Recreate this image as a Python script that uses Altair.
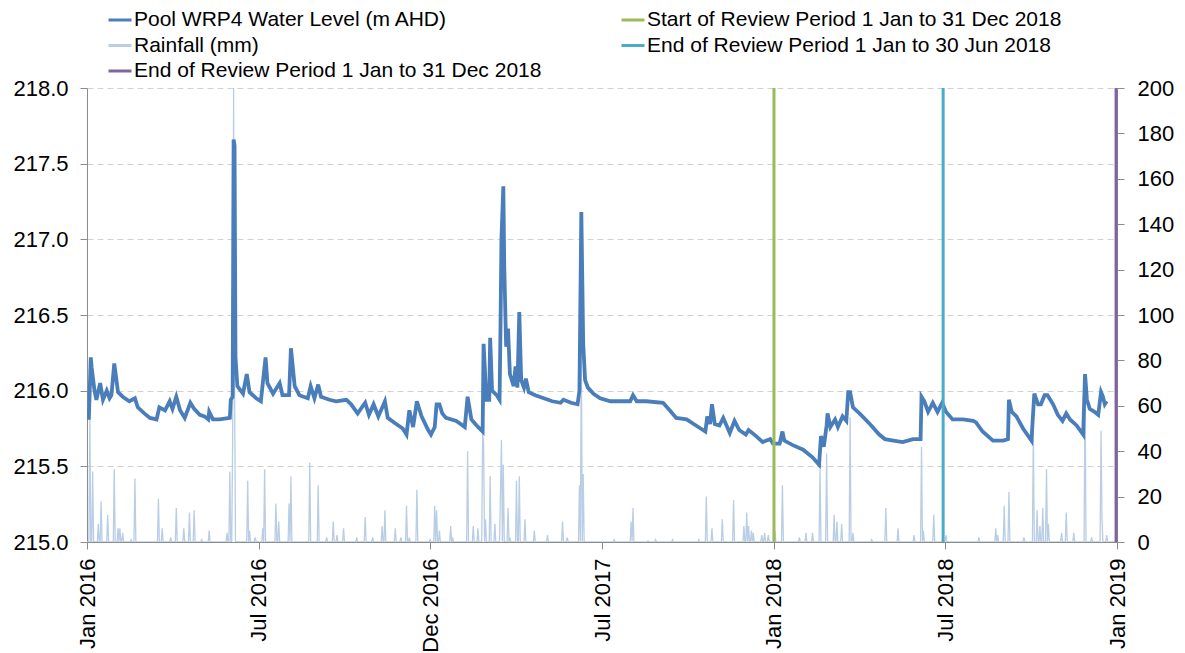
import altair as alt
import pandas as pd

# ---------------- data ----------------
level_dates = [
    "2016-01-01", "2016-01-03", "2016-01-05", "2016-01-06", "2016-01-09", "2016-01-11", "2016-01-15",
    "2016-01-18", "2016-01-22", "2016-01-25", "2016-01-27", "2016-01-30", "2016-02-03", "2016-02-08",
    "2016-02-15", "2016-02-21", "2016-02-24", "2016-03-02", "2016-03-08", "2016-03-15", "2016-03-18",
    "2016-03-24", "2016-03-29", "2016-04-01", "2016-04-05", "2016-04-09", "2016-04-14", "2016-04-20",
    "2016-04-24", "2016-04-30", "2016-05-05", "2016-05-09", "2016-05-10", "2016-05-14", "2016-05-21",
    "2016-06-01", "2016-06-02", "2016-06-04", "2016-06-05", "2016-06-06", "2016-06-07", "2016-06-09",
    "2016-06-15", "2016-06-19", "2016-06-22", "2016-06-29", "2016-07-04", "2016-07-09", "2016-07-11",
    "2016-07-17", "2016-07-24", "2016-07-27", "2016-08-03", "2016-08-05", "2016-08-09", "2016-08-14",
    "2016-08-23", "2016-08-26", "2016-08-30", "2016-09-03", "2016-09-06", "2016-09-15", "2016-09-22",
    "2016-10-03", "2016-10-08", "2016-10-15", "2016-10-23", "2016-10-27", "2016-11-01", "2016-11-06",
    "2016-11-13", "2016-11-16", "2016-11-25", "2016-12-02", "2016-12-06", "2016-12-09", "2016-12-13",
    "2016-12-17", "2016-12-22", "2016-12-29", "2017-01-01", "2017-01-05", "2017-01-07", "2017-01-10",
    "2017-01-13", "2017-01-17", "2017-01-28", "2017-02-06", "2017-02-09", "2017-02-13", "2017-02-20",
    "2017-02-25", "2017-02-26", "2017-03-01", "2017-03-04", "2017-03-05", "2017-03-07", "2017-03-12",
    "2017-03-15", "2017-03-16", "2017-03-17", "2017-03-19", "2017-03-20", "2017-03-22", "2017-03-24",
    "2017-03-26", "2017-03-30", "2017-04-01", "2017-04-03", "2017-04-05", "2017-04-07", "2017-04-10",
    "2017-04-12", "2017-04-15", "2017-04-22", "2017-05-01", "2017-05-10", "2017-05-19", "2017-05-22",
    "2017-05-30", "2017-06-06", "2017-06-08", "2017-06-10", "2017-06-12", "2017-06-14", "2017-06-17",
    "2017-06-23", "2017-06-30", "2017-07-11", "2017-07-25", "2017-08-01", "2017-08-04", "2017-08-08",
    "2017-08-18", "2017-09-05", "2017-09-12", "2017-09-19", "2017-09-30", "2017-10-10", "2017-10-20",
    "2017-10-22", "2017-10-25", "2017-10-27", "2017-10-30", "2017-11-04", "2017-11-08", "2017-11-15",
    "2017-11-20", "2017-11-25", "2017-12-02", "2017-12-05", "2017-12-13", "2017-12-20", "2017-12-28",
    "2017-12-31", "2018-01-07", "2018-01-10", "2018-01-12", "2018-01-21", "2018-02-01", "2018-02-11",
    "2018-02-18", "2018-02-20", "2018-02-23", "2018-02-26", "2018-02-27", "2018-03-02", "2018-03-07",
    "2018-03-10", "2018-03-15", "2018-03-19", "2018-03-21", "2018-03-23", "2018-03-26", "2018-04-02",
    "2018-04-13", "2018-04-23", "2018-04-29", "2018-05-08", "2018-05-18", "2018-05-29", "2018-06-06",
    "2018-06-07", "2018-06-10", "2018-06-14", "2018-06-19", "2018-06-24", "2018-06-29", "2018-07-03",
    "2018-07-10", "2018-07-21", "2018-08-01", "2018-08-04", "2018-08-11", "2018-08-22", "2018-09-02",
    "2018-09-07", "2018-09-08", "2018-09-11", "2018-09-16", "2018-09-23", "2018-10-02", "2018-10-05",
    "2018-10-09", "2018-10-12", "2018-10-16", "2018-10-19", "2018-10-25", "2018-10-30", "2018-11-04",
    "2018-11-08", "2018-11-12", "2018-11-19", "2018-11-26", "2018-11-28", "2018-11-30", "2018-12-03",
    "2018-12-08", "2018-12-12", "2018-12-15", "2018-12-17", "2018-12-19", "2018-12-21",
]
level_values = [
    215.82, 215.82, 216.22, 216.15, 216.00, 215.94, 216.05,
    215.94, 216.00, 215.95, 215.97, 216.18, 215.99, 215.96,
    215.93, 215.95, 215.89, 215.85, 215.82, 215.81, 215.89,
    215.87, 215.93, 215.88, 215.96, 215.87, 215.82, 215.92,
    215.88, 215.84, 215.83, 215.81, 215.86, 215.81, 215.81,
    215.82, 215.94, 215.96, 217.66, 217.62, 216.22, 216.03,
    215.98, 216.11, 215.99, 215.95, 215.93, 216.22, 216.05,
    215.98, 216.05, 215.97, 215.97, 216.28, 216.03, 215.97,
    215.95, 216.03, 215.95, 216.04, 215.96, 215.94, 215.93,
    215.94, 215.91, 215.85, 215.92, 215.84, 215.91, 215.83,
    215.93, 215.82, 215.78, 215.75, 215.71, 215.87, 215.76,
    215.93, 215.83, 215.74, 215.71, 215.76, 215.91, 215.91,
    215.85, 215.82, 215.80, 215.76, 215.96, 215.81, 215.76,
    215.73, 216.31, 215.94, 215.94, 216.35, 216.00, 215.97,
    215.94, 216.42, 217.00, 217.35, 216.82, 216.29, 216.41,
    216.11, 216.03, 216.16, 216.02, 216.52, 216.07, 216.02,
    216.08, 215.99, 215.97, 215.95, 215.93, 215.92, 215.94,
    215.92, 215.91, 216.00, 217.18, 216.31, 216.07, 216.02,
    215.98, 215.95, 215.93, 215.93, 215.93, 215.97, 215.93,
    215.93, 215.92, 215.87, 215.82, 215.81, 215.77, 215.73,
    215.83, 215.78, 215.91, 215.78, 215.77, 215.82, 215.72,
    215.80, 215.74, 215.71, 215.74, 215.70, 215.66, 215.68,
    215.65, 215.65, 215.73, 215.67, 215.64, 215.61, 215.56,
    215.51, 215.70, 215.63, 215.77, 215.85, 215.76, 215.81,
    215.76, 215.83, 215.80, 215.99, 215.99, 215.89, 215.85,
    215.78, 215.71, 215.68, 215.67, 215.66, 215.68, 215.68,
    215.96, 215.93, 215.86, 215.92, 215.86, 215.92, 215.86,
    215.81, 215.81, 215.80, 215.79, 215.73, 215.67, 215.67,
    215.68, 215.94, 215.86, 215.83, 215.75, 215.67, 215.98,
    215.91, 215.91, 215.97, 215.97, 215.91, 215.84, 215.80,
    215.85, 215.81, 215.77, 215.71, 216.11, 215.94, 215.88,
    215.86, 215.84, 215.99, 215.96, 215.91, 215.93,
]

# rainfall days (all other days of the record show 0 mm)
rain_dates = [
    "2016-01-04", "2016-01-07", "2016-01-13", "2016-01-16", "2016-01-23", "2016-01-30", "2016-02-03",
    "2016-02-05", "2016-02-08", "2016-02-17", "2016-02-21", "2016-03-17", "2016-03-21", "2016-03-30",
    "2016-04-05", "2016-04-13", "2016-04-19", "2016-04-24", "2016-05-02", "2016-05-10", "2016-05-29",
    "2016-06-01", "2016-06-04", "2016-06-05", "2016-06-06", "2016-06-20", "2016-06-22", "2016-06-28",
    "2016-07-06", "2016-07-08", "2016-07-20", "2016-07-23", "2016-08-03", "2016-08-05", "2016-08-25",
    "2016-09-03", "2016-09-12", "2016-09-19", "2016-09-23", "2016-09-30", "2016-10-14", "2016-10-23",
    "2016-10-31", "2016-11-10", "2016-11-13", "2016-11-24", "2016-11-30", "2016-12-06", "2016-12-09",
    "2016-12-17", "2016-12-31", "2017-01-05", "2017-01-07", "2017-01-10", "2017-01-22", "2017-01-24",
    "2017-02-09", "2017-02-15", "2017-02-20", "2017-02-25", "2017-02-26", "2017-02-28", "2017-03-05",
    "2017-03-10", "2017-03-16", "2017-03-17", "2017-03-19", "2017-03-24", "2017-03-26", "2017-04-02",
    "2017-04-05", "2017-04-11", "2017-04-21", "2017-05-05", "2017-05-21", "2017-05-26", "2017-06-08",
    "2017-06-10", "2017-06-12", "2017-07-15", "2017-08-02", "2017-08-04", "2017-08-20", "2017-08-28",
    "2017-09-15", "2017-10-13", "2017-10-21", "2017-10-27", "2017-11-07", "2017-11-19", "2017-11-30",
    "2017-12-03", "2017-12-05", "2017-12-08", "2017-12-10", "2017-12-19", "2017-12-22", "2017-12-26",
    "2018-01-02", "2018-01-10", "2018-01-28", "2018-02-04", "2018-02-11", "2018-02-19", "2018-02-26",
    "2018-03-06", "2018-03-09", "2018-03-14", "2018-03-23", "2018-03-26", "2018-04-15", "2018-04-30",
    "2018-05-13", "2018-05-30", "2018-06-07", "2018-06-09", "2018-06-20", "2018-07-03", "2018-08-07",
    "2018-08-25", "2018-08-27", "2018-09-03", "2018-09-08", "2018-09-24", "2018-10-04", "2018-10-08",
    "2018-10-11", "2018-10-14", "2018-10-18", "2018-10-20", "2018-11-03", "2018-11-08", "2018-11-16",
    "2018-11-28", "2018-12-05", "2018-12-15", "2018-12-16", "2018-12-21",
]
rain_values = [
    55, 31, 8, 18, 12, 32, 6,
    6, 4, 1, 28, 19, 6, 2,
    15, 6, 13, 14, 1, 5, 4,
    31, 45, 200, 70, 27, 5, 2,
    6, 32, 17, 9, 17, 29, 35,
    25, 2, 9, 3, 6, 2, 11,
    2, 7, 14, 6, 2, 16, 2,
    23, 1, 16, 14, 5, 7, 2,
    40, 7, 6, 48, 44, 10, 29,
    8, 23, 45, 34, 15, 2, 27,
    29, 10, 5, 3, 9, 2, 25,
    87, 30, 1, 9, 15, 0.5, 1,
    1, 1, 20, 6, 10, 18.5, 7,
    13, 7, 5, 4, 3, 4, 3,
    5, 25, 2, 4, 4, 32, 39,
    12, 9, 8, 55, 4, 1, 15,
    6, 3, 42, 5, 12, 3, 2,
    6, 3, 16, 22, 2, 49, 14,
    7, 15, 32, 8, 4, 13, 4,
    72, 2, 49, 10, 3,
]
rain_record = ("2016-01-01", "2018-12-31")

review_dates = ["2018-01-01", "2018-06-30", "2018-12-31"]
review_names = [
    "Start of Review Period 1 Jan to 31 Dec 2018",
    "End of Review Period 1 Jan to 30 Jun 2018",
    "End of Review Period 1 Jan to 31 Dec 2018",
]

level_name = "Pool WRP4 Water Level (m AHD)"
rain_name = "Rainfall (mm)"
# legend is filled column by column: first column, then second column
series_names = [level_name, rain_name, review_names[2], review_names[0], review_names[1]]
series_colors = ["#4a7ebb", "#b9cde5", "#8064a2", "#9bbb59", "#4bacc6"]

x_tick_dates = ["2016-01-01", "2016-07-02", "2016-12-31", "2017-07-02", "2018-01-01", "2018-07-02", "2019-01-01"]
left_ticks = [215.0, 215.5, 216.0, 216.5, 217.0, 217.5, 218.0]
right_ticks = [0, 20, 40, 60, 80, 100, 120, 140, 160, 180, 200]

# ---------------- tables ----------------
level_df = pd.DataFrame({
    "date": [d + "T00:00:00" for d in level_dates],
    "level": level_values,
    "series": level_name,
})

days = pd.date_range(rain_record[0], rain_record[1], freq="D")
rain_map = dict(zip(rain_dates, rain_values))
rain_df = pd.DataFrame({
    "date": [d.strftime("%Y-%m-%dT00:00:00") for d in days],
    "rain": [rain_map.get(d.strftime("%Y-%m-%d"), 0) for d in days],
    "series": rain_name,
})

review_df = pd.DataFrame({
    "date": [d + "T00:00:00" for d in review_dates],
    "series": review_names,
})


def dt(s):
    y, m, d = (int(p) for p in s.split("-"))
    return alt.DateTime(year=y, month=m, date=d)


FONT = "Liberation Sans"

x_enc = alt.X(
    "date:T",
    title=None,
    scale=alt.Scale(domain=[dt("2016-01-01"), dt("2019-01-01")]),
    axis=alt.Axis(
        values=[dt(s) for s in x_tick_dates],
        format="%b %Y",
        labelAngle=-90,
        labelFontSize=22,
        labelFont=FONT,
        labelColor="#000000",
        labelPadding=9,
        tickSize=7,
        tickColor="#8c8c8c",
        domainColor="#8c8c8c",
        grid=False,
        labelOverlap=False,
    ),
)

color_enc = alt.Color(
    "series:N",
    scale=alt.Scale(domain=series_names, range=series_colors),
    legend=alt.Legend(
        title=None,
        orient="none",
        legendX=20,
        legendY=-81,
        columns=2,
        columnPadding=73,
        rowPadding=2.5,
        padding=0,
        symbolType="stroke",
        symbolSize=529,
        symbolStrokeWidth=3,
        labelFontSize=21,
        labelFont=FONT,
        labelColor="#000000",
        labelLimit=700,
        labelOffset=1,
    ),
)

rain_layer = alt.Chart(rain_df).mark_line(strokeWidth=1.3, clip=True).encode(
    x=x_enc,
    y=alt.Y(
        "rain:Q",
        title=None,
        scale=alt.Scale(domain=[0, 200], nice=False),
        axis=alt.Axis(
            orient="right",
            values=right_ticks,
            labelFontSize=22,
            labelFont=FONT,
            labelColor="#000000",
            labelPadding=13,
            tickSize=7,
            tickColor="#8c8c8c",
            domainColor="#8c8c8c",
            grid=False,
        ),
    ),
    color=color_enc,
)

level_layer = alt.Chart(level_df).mark_line(strokeWidth=3.8).encode(
    x=x_enc,
    y=alt.Y(
        "level:Q",
        title=None,
        scale=alt.Scale(domain=[215, 218], nice=False, zero=False),
        axis=alt.Axis(
            orient="left",
            values=left_ticks,
            format=".1f",
            labelFontSize=22,
            labelFont=FONT,
            labelColor="#000000",
            labelPadding=12,
            tickSize=7,
            tickColor="#8c8c8c",
            domainColor="#8c8c8c",
            grid=True,
            gridColor="#d0d0d0",
            gridDash=[6, 4],
            gridWidth=1,
        ),
    ),
    color=color_enc,
)

review_layer = alt.Chart(review_df).mark_rule(strokeWidth=3).encode(
    x=x_enc,
    color=color_enc,
)

chart = (
    alt.layer(rain_layer, level_layer, review_layer)
    .resolve_scale(y="independent")
    .properties(
        width=1030,
        height=454,
        autosize=alt.AutoSizeParams(type="none"),
        padding={"left": 79, "top": 80, "right": 60, "bottom": 115},
        background="white",
    )
    .configure_view(stroke=None)
)

chart.save("out.html", embed_options={"renderer": "svg", "actions": False})
